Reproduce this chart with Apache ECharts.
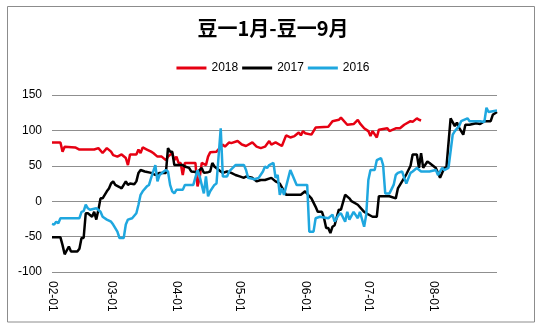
<!DOCTYPE html>
<html>
<head>
<meta charset="utf-8">
<script src="https://cdn.jsdelivr.net/npm/echarts@6/dist/echarts.min.js"></script>
<style>html,body{margin:0;padding:0;background:#fff}#c{width:546px;height:330px}</style>
</head>
<body>
<div id="c"></div>
<script>
const monthNames = ['02','03','04','05','06','07','08'];
const monthDays = [28,31,30,31,30,31,31];
const yTicks = [-100,-50,0,50,100,150];
const seriesNames = ['2018','2017','2016'];

const s2018 = [['02-01',83],['02-05',83],['02-06',70],['02-07',77],['02-12',76],['02-14',73],['02-21',73],['02-23',75],['02-25',68],['02-27',75],
['03-01',70],['03-02',65],['03-04',63],['03-06',66],['03-08',61],['03-09',51],['03-10',66],['03-13',66],['03-14',73],['03-15',68],['03-16',76],['03-18',73],['03-20',70],['03-21',68],['03-23',63],['03-25',63],['03-27',58],['03-28',63],['03-30',68],['03-31',58],
['04-01',63],['04-02',54],['04-03',54],['04-04',37],['04-05',54],['04-10',54],['04-11',21],['04-12',33],['04-13',54],['04-15',51],['04-16',63],['04-17',69],['04-20',70],['04-23',80],['04-24',77],['04-26',83],['04-27',82],['04-30',85],
['05-02',80],['05-04',78],['05-07',83],['05-09',77],['05-11',75],['05-13',77],['05-15',85],['05-16',80],['05-18',83],['05-21',78],['05-23',93],['05-25',90],['05-27',92],['05-29',97],['05-30',93],['05-31',99],
['06-01',96],['06-04',94],['06-06',104],['06-12',105],['06-14',113],['06-17',115],['06-18',118],['06-21',108],['06-24',109],['06-26',115],['06-27',110],['06-29',103],
['07-01',99],['07-02',92],['07-03',99],['07-05',90],['07-06',101],['07-10',103],['07-11',99],['07-14',103],['07-16',103],['07-18',108],['07-21',113],['07-22',112],['07-24',117],['07-25',115],['07-26',114]];

const s2017 = [['02-01',-51],['02-05',-51],['02-06',-62],['02-07',-75],['02-09',-64],['02-10',-71],['02-13',-71],['02-14',-67],['02-15',-52],['02-16',-52],['02-17',-17],['02-18',-17],['02-20',-22],['02-21',-15],['02-22',-26],['02-23',-12],['02-24',4],['02-25',4],['02-26',9],['02-27',14],['02-28',18],
['03-01',25],['03-02',28],['03-03',23],['03-05',20],['03-06',18],['03-08',28],['03-09',23],['03-10',25],['03-12',24],['03-13',28],['03-14',40],['03-15',44],['03-17',42],['03-20',40],['03-22',37],['03-24',40],['03-27',40],['03-28',75],['03-29',70],['03-30',70],['03-31',51],
['04-04',51],['04-05',49],['04-07',47],['04-08',42],['04-11',41],['04-13',47],['04-14',40],['04-16',41],['04-17',42],['04-18',54],['04-19',49],['04-22',42],['04-23',40],['04-25',42],['04-27',40],['04-29',37],
['05-01',35],['05-03',33],['05-04',35],['05-07',33],['05-09',28],['05-11',30],['05-13',30],['05-16',33],['05-18',28],['05-20',25],['05-23',9],['05-26',9],['05-30',9],
['06-01',14],['06-03',7],['06-04',4],['06-05',-2],['06-06',-8],['06-07',-15],['06-09',-15],['06-10',-24],['06-11',-38],['06-12',-38],['06-13',-45],['06-14',-36],['06-15',-34],['06-17',-12],['06-18',-12],['06-20',9],['06-22',4],['06-23',0],['06-26',-5],['06-29',-15],['06-30',-17],
['07-03',-22],['07-05',-22],['07-06',7],['07-11',7],['07-14',4],['07-15',18],['07-17',28],['07-18',33],['07-19',38],['07-21',50],['07-22',66],['07-24',66],['07-25',47],['07-26',68],['07-27',47],['07-29',56],['07-30',54],
['08-02',47],['08-03',40],['08-04',33],['08-06',47],['08-07',47],['08-08',82],['08-09',117],['08-11',106],['08-12',111],['08-13',104],['08-15',94],['08-16',108],['08-18',108],['08-21',110],['08-23',109],['08-25',113],['08-28',113],['08-29',122],['08-31',126]];

const s2016 = [['02-01',-32],['02-02',-33],['02-03',-29],['02-04',-31],['02-05',-24],['02-14',-24],['02-15',-15],['02-16',-14],['02-17',-5],['02-18',-10],['02-19',-12],['02-22',-10],['02-24',-15],['02-25',-22],['02-27',-26],
['03-01',-29],['03-02',-33],['03-04',-43],['03-05',-52],['03-07',-52],['03-08',-33],['03-09',-26],['03-11',-24],['03-13',-17],['03-14',-5],['03-15',9],['03-16',14],['03-18',21],['03-19',23],['03-20',33],['03-22',51],['03-23',28],['03-24',37],['03-26',42],['03-27',44],['03-28',42],['03-29',23],['03-30',14],['03-31',11],
['04-01',16],['04-04',16],['04-05',23],['04-09',23],['04-11',44],['04-12',35],['04-14',11],['04-15',35],['04-16',7],['04-17',14],['04-19',23],['04-20',25],['04-22',103],['04-23',35],['04-25',35],['04-26',42],['04-29',51],
['05-03',51],['05-04',44],['05-05',33],['05-08',31],['05-10',33],['05-12',42],['05-13',49],['05-14',47],['05-15',51],['05-17',54],['05-18',33],['05-19',37],['05-20',9],['05-21',18],['05-22',9],['05-25',44],['05-26',37],['05-28',23],
['06-02',23],['06-03',-43],['06-05',-43],['06-06',-24],['06-08',-22],['06-12',-24],['06-14',-19],['06-15',-29],['06-17',-19],['06-18',-17],['06-20',-29],['06-21',-15],['06-22',-26],['06-24',-15],['06-26',-24],['06-27',-15],['06-29',-36],['06-30',-19],
['07-01',30],['07-02',44],['07-04',44],['07-05',58],['07-07',61],['07-08',51],['07-09',11],['07-11',11],['07-13',23],['07-14',37],['07-15',40],['07-17',42],['07-18',33],['07-19',25],['07-21',40],['07-22',42],['07-24',47],['07-26',42],['07-30',42],
['08-02',44],['08-03',37],['08-05',47],['08-06',44],['08-08',47],['08-10',94],['08-11',99],['08-13',106],['08-14',113],['08-17',117],['08-18',113],['08-23',113],['08-25',112],['08-26',132],['08-27',126],['08-29',127],['08-31',128]];

const categories = [];
monthNames.forEach((m, i) => {
  for (let d = 1; d <= monthDays[i]; d++) categories.push(m + '-' + (d < 10 ? '0' + d : d));
});
function toSeries(points) {
  const arr = new Array(categories.length).fill(null);
  points.forEach(p => { const idx = categories.indexOf(p[0]); if (idx >= 0) arr[idx] = p[1]; });
  return arr;
}
const colors = ['#e60012', '#000000', '#1fa7df'];
const allData = [s2018, s2017, s2016];

const chart = echarts.init(document.getElementById('c'), null, {renderer: 'canvas'});
chart.setOption({
  animation: false,
  backgroundColor: '#ffffff',
  graphic: [{
    type: 'rect', silent: true, z: -1,
    shape: {x: 7.5, y: 6.5, width: 527, height: 315.5},
    style: {fill: 'none', stroke: '#8c8c8c', lineWidth: 1}
  }],
  title: {
    text: '豆一1月-豆一9月',
    left: 'center', top: 18, padding: 0,
    textStyle: {fontFamily: 'Noto Sans CJK SC', fontWeight: 'bold', fontSize: 20, color: '#000'}
  },
  legend: {
    data: seriesNames,
    top: 62, left: 'center', padding: 0,
    icon: 'rect', itemWidth: 30, itemHeight: 3, itemGap: 4,
    textStyle: {fontFamily: 'Liberation Sans', fontSize: 12, color: '#000'}
  },
  grid: {left: 52, right: 49, top: 95, bottom: 58, containLabel: false},
  xAxis: {
    type: 'category',
    data: categories,
    boundaryGap: false,
    axisLine: {show: false},
    axisTick: {show: false},
    splitLine: {show: false},
    axisLabel: {
      rotate: -90, margin: 9,
      interval: (idx, val) => val.slice(3) === '01',
      fontFamily: 'Liberation Sans', fontSize: 12, color: '#000'
    }
  },
  yAxis: {
    type: 'value',
    min: yTicks[0], max: yTicks[yTicks.length - 1], interval: 50,
    axisLine: {show: false},
    axisTick: {show: false},
    splitLine: {show: true, lineStyle: {color: '#8f8f8f', width: 1}},
    axisLabel: {margin: 10, fontFamily: 'Liberation Sans', fontSize: 12, color: '#000'}
  },
  series: seriesNames.map((n, i) => ({
    name: n, type: 'line',
    data: toSeries(allData[i]),
    connectNulls: true,
    showSymbol: false, symbol: 'none',
    color: colors[i],
    lineStyle: {color: colors[i], width: 2.5}
  }))
});
</script>
</body>
</html>
